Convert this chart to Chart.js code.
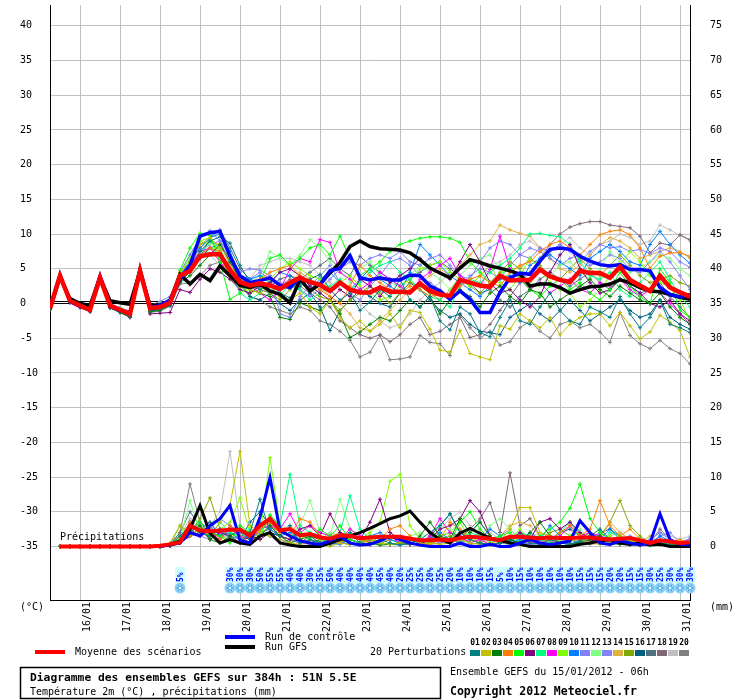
<!DOCTYPE html>
<html><head><meta charset="utf-8">
<script src="https://cdn.jsdelivr.net/npm/chart.js@4.4.1/dist/chart.umd.min.js"></script>
<style>html,body{margin:0;padding:0;background:#fff;}canvas{display:block;}</style>
</head><body>
<canvas id="c" width="740" height="700" style="width:740px;height:700px"></canvas>
<script>
// ---------- categories / ticks ----------
const dateLabels = ['16/01','17/01','18/01','19/01','20/01','21/01','22/01','23/01','24/01','25/01','26/01','27/01','28/01','29/01','30/01','31/01'];
const dateTickIdx = [3,7,11,15,19,23,27,31,35,39,43,47,51,55,59,63];
const leftTicks = [-35,-30,-25,-20,-15,-10,-5,0,5,10,15,20,25,30,35,40];
const rightTicks = [0,5,10,15,20,25,30,35,40,45,50,55,60,65,70,75];
const pertNames = ['01','02','03','04','05','06','07','08','09','10','11','12','13','14','15','16','17','18','19','20'];
const pertColors = ['#008080','#c0c000','#008000','#ff8000','#00ff00','#800080','#00ff80','#ff00ff','#80ff00','#0080ff','#8080ff','#80ff80','#8484f4','#e0b040','#80a800','#006080','#507080','#806878','#c0c0c0','#808080'];

// ---------- temperature 2m (°C), every 6h, 65 steps ----------
const tMean = [-0.7,4.0,0.4,-0.3,-0.9,3.7,-0.3,-0.9,-1.5,4.7,-0.7,-0.5,0.1,
 4.0,4.7,6.8,7.1,7.1,4.8,3.1,2.6,2.9,2.6,2.1,3.0,3.7,
 3.1,2.7,1.8,3.0,2.0,1.6,1.6,2.3,1.7,1.7,1.6,2.9,1.8,
 1.3,1.1,3.4,3.0,2.6,2.4,4.0,3.3,3.4,3.4,4.9,3.9,3.4,
 3.1,4.7,4.4,4.4,3.7,5.3,3.4,2.6,1.8,4.0,2.3,1.6,1.0];
const tCtrl = [-0.6,4.1,0.3,-0.4,-0.8,3.9,-0.4,-1.0,-1.4,4.9,-0.6,-0.3,0.5,
 3.5,5.5,9.7,10.2,10.4,6.8,4.0,3.0,3.3,3.7,2.6,2.3,3.7,
 3.0,2.7,4.7,5.1,6.9,3.7,3.4,3.7,3.4,3.4,4.1,4.0,2.5,
 1.8,0.6,1.8,0.6,-1.3,-1.3,1.6,3.7,4.4,4.2,6.1,7.8,8.0,
 7.8,6.8,6.1,5.6,5.4,5.6,4.9,4.9,4.7,2.3,1.3,0.9,1.3];
const tGfs = [-0.7,3.8,0.7,0.0,-0.3,3.8,0.4,0.1,-0.1,4.7,-0.3,-0.2,0.3,
 4.2,2.8,4.2,3.3,5.4,4.0,2.6,2.3,2.8,1.8,1.3,0.1,3.5,
 1.8,2.8,4.4,5.9,8.2,9.0,8.2,7.9,7.8,7.7,7.3,6.3,5.1,
 4.4,3.7,5.1,6.3,5.9,5.4,5.1,4.7,4.2,2.5,2.8,2.8,2.3,
 1.5,2.0,2.4,2.5,2.8,3.4,3.0,2.3,1.8,1.7,1.3,0.9,0.6];
const tP01 = [-0.7,3.9,0.2,-0.5,-1.0,3.6,-0.5,-1.2,-1.8,4.6,-1.0,-0.8,0.0,
 3.6,5.2,7.5,9.0,9.6,8.7,5.5,3.0,2.0,2.8,1.5,0.8,2.5,
 3.5,4.2,2.0,0.5,1.5,-1.0,0.2,2.0,1.0,3.5,0.5,-0.5,1.0,
 -2.5,-3.8,-0.5,-1.5,-4.2,-4.8,-2.0,0.5,-2.5,-3.0,-0.5,1.5,-1.0,
 -2.5,-3.0,-0.5,-1.2,-2.0,1.0,-1.5,-3.5,-2.0,0.5,-3.0,-3.5,-4.2];
const tP02 = [-0.6,4.1,0.5,-0.2,-0.8,3.8,-0.2,-0.8,-1.3,4.8,-0.5,-0.3,0.3,
 4.5,6.0,8.5,9.5,8.0,6.5,4.0,2.0,1.5,2.5,1.0,0.5,1.5,
 -0.5,-1.5,0.5,-2.0,-3.5,-2.5,-4.0,-3.0,-1.5,-3.5,-1.0,-1.3,-3.7,
 -6.7,-7.0,-3.9,-7.2,-7.7,-8.1,-3.2,-3.7,-1.5,-2.5,-3.5,-2.0,-4.5,
 -3.0,-2.0,-1.5,-1.5,-3.2,-1.3,-3.2,-5.1,-4.1,-1.7,-2.7,-3.9,-7.7];
const tP03 = [-0.8,3.8,0.3,-0.4,-1.1,3.5,-0.6,-1.3,-1.9,4.5,-1.2,-1.0,-0.2,
 3.0,4.0,5.5,7.0,8.5,6.0,3.5,2.0,1.5,1.0,-2.0,-2.3,0.1,
 -0.5,-1.0,0.5,-1.5,-4.9,-4.1,-3.0,-2.0,-2.5,-1.0,0.5,-0.5,1.0,
 -1.5,0.5,2.0,1.0,-0.5,1.5,2.5,1.0,0.0,2.0,1.5,-0.5,0.5,
 1.5,2.5,3.5,2.0,1.0,2.5,1.5,0.5,0.0,1.5,-0.5,-2.0,-3.0];
const tP04 = [-0.7,4.0,0.5,-0.2,-0.9,3.8,-0.3,-0.9,-1.4,4.8,-0.6,-0.4,0.2,
 4.2,5.0,7.0,8.0,7.5,5.0,3.0,2.5,3.5,4.5,5.0,5.5,4.0,
 3.0,2.0,1.0,0.0,2.5,5.5,4.0,3.0,2.0,1.5,2.5,2.0,1.0,
 1.3,0.9,2.5,3.5,4.0,3.0,2.5,4.5,5.5,6.0,7.5,8.5,9.0,
 8.0,7.0,8.5,9.9,10.4,10.6,9.9,8.0,5.1,6.8,7.3,7.3,6.8];
const tP05 = [-0.6,4.2,0.6,-0.1,-0.7,3.9,-0.1,-0.7,-1.2,4.9,-0.4,-0.1,0.6,
 4.8,8.0,10.1,9.8,6.0,0.6,1.5,2.5,3.0,6.5,7.0,5.5,6.5,
 8.0,8.5,7.0,9.7,6.5,4.0,5.0,6.0,7.5,8.5,9.0,9.4,9.6,
 9.6,9.4,8.8,6.0,4.5,3.0,4.0,5.5,3.5,2.0,1.0,2.5,3.5,
 2.0,3.0,1.5,0.5,2.0,4.5,2.5,1.0,0.0,5.0,3.0,-1.0,-2.0];
const tP06 = [-0.9,3.7,0.1,-0.6,-1.2,3.4,-0.6,-1.3,-2.0,4.4,-1.5,-1.4,-1.3,
 2.0,1.6,3.5,5.0,4.5,3.5,2.0,1.5,2.5,3.0,4.5,5.0,4.0,
 2.5,1.5,0.5,2.0,1.0,3.5,2.5,1.0,3.0,4.0,5.0,6.5,5.0,
 4.4,3.5,6.0,8.5,6.0,3.0,1.5,2.0,0.5,-0.5,1.0,4.5,7.0,
 8.5,5.0,3.0,1.5,2.0,3.5,2.5,1.5,0.0,-0.5,0.5,-1.5,-2.5];
const tP07 = [-0.7,4.0,0.3,-0.4,-1.0,3.7,-0.4,-1.0,-1.6,4.6,-0.9,-0.6,0.0,
 4.0,5.0,7.0,9.0,8.0,4.5,1.5,0.5,1.5,2.5,1.0,3.0,2.0,
 0.5,1.5,2.5,3.5,2.0,3.0,4.5,5.5,6.0,4.5,3.5,2.0,1.0,
 0.5,-0.5,2.5,3.5,3.0,4.5,5.5,6.5,8.0,10.0,10.1,9.8,9.6,
 8.5,6.0,4.0,3.5,4.5,2.0,1.0,3.0,4.5,6.0,3.5,1.0,-0.5];
const tP08 = [-0.8,3.9,0.4,-0.3,-1.0,3.6,-0.5,-1.1,-1.6,4.6,-0.8,-0.6,0.0,
 3.8,5.5,7.5,8.0,6.0,4.0,3.0,2.5,1.5,0.5,2.0,5.0,6.5,
 6.0,9.2,8.8,4.5,3.5,2.0,3.0,4.5,3.5,2.5,1.5,3.5,4.5,
 5.5,6.5,4.0,3.0,2.5,4.9,9.7,5.0,3.5,2.0,3.0,1.5,2.5,
 3.5,2.0,1.5,3.0,2.5,3.5,2.0,1.0,2.0,1.5,0.0,-1.5,-3.0];
const tP09 = [-0.6,4.1,0.5,-0.2,-0.8,3.8,-0.2,-0.8,-1.3,4.8,-0.5,-0.2,0.4,
 4.3,6.5,9.0,9.5,7.0,3.5,2.5,1.5,2.0,3.5,5.0,6.0,5.0,
 4.0,3.5,2.0,3.0,4.0,2.5,1.5,0.5,1.0,2.5,3.5,5.0,5.5,
 6.0,4.5,3.5,2.5,4.0,5.5,3.0,2.0,4.0,6.5,5.0,3.0,2.0,
 1.5,-0.5,0.5,2.0,4.0,5.5,7.5,6.0,4.0,3.0,2.5,0.5,-2.5];
const tP10 = [-0.7,4.0,0.4,-0.3,-0.9,3.7,-0.3,-0.9,-1.5,4.7,-0.7,-0.4,0.2,
 4.1,6.0,8.0,9.5,10.0,7.5,4.0,3.5,4.0,3.0,4.5,4.0,3.0,
 2.0,3.5,4.5,3.0,2.0,3.5,5.0,3.5,2.5,1.5,4.5,8.5,7.0,
 5.5,4.0,3.0,2.0,1.0,2.5,3.5,4.0,3.0,5.5,6.5,7.0,6.0,
 5.0,4.0,6.5,7.5,8.5,7.5,6.0,5.5,8.5,10.4,8.5,7.0,5.8];
const tP11 = [-0.5,4.2,0.7,0.0,-0.6,4.0,0.0,-0.6,-1.1,5.0,-0.3,0.3,1.0,
 4.5,7.0,9.5,10.5,9.0,6.0,4.0,3.5,4.5,3.5,3.0,2.5,2.0,
 1.0,2.0,3.5,5.0,6.0,5.5,6.5,7.0,6.5,7.5,6.0,5.5,6.5,
 7.0,5.5,4.0,3.5,6.0,8.0,9.0,8.5,7.0,6.5,8.0,7.5,8.5,
 7.5,6.0,7.5,8.5,8.0,8.2,7.5,7.8,7.2,8.0,7.5,6.0,5.2];
const tP12 = [-0.7,4.0,0.4,-0.3,-0.9,3.7,-0.3,-0.9,-1.5,4.7,-0.6,-0.4,0.3,
 4.2,7.0,9.0,8.5,6.5,4.5,3.5,3.0,4.0,7.5,6.5,5.5,7.0,
 9.2,8.0,6.0,4.5,3.0,5.0,6.0,4.0,3.0,2.5,4.0,5.5,4.5,
 3.5,2.0,4.0,5.5,6.5,7.0,5.0,3.5,4.5,3.0,2.5,4.0,5.5,
 6.0,4.5,3.5,5.0,7.5,6.0,4.5,5.0,6.0,7.0,6.5,5.0,4.0];
const tP13 = [-0.8,3.9,0.3,-0.4,-1.0,3.6,-0.4,-1.0,-1.6,4.6,-0.9,-0.7,0.0,
 3.9,5.5,7.5,8.5,9.0,7.0,4.5,5.0,4.8,4.0,-1.5,-2.0,1.0,
 2.5,4.0,5.5,3.0,1.5,0.5,2.5,4.0,6.0,6.5,5.5,4.0,3.0,
 2.0,1.0,2.5,4.0,5.0,4.5,3.5,5.5,7.0,8.0,7.5,6.5,5.5,
 6.5,7.0,5.5,6.0,7.0,6.5,5.0,4.5,6.0,7.5,6.0,4.0,2.0];
const tP14 = [-0.7,4.0,0.5,-0.2,-0.8,3.8,-0.2,-0.8,-1.4,4.8,-0.5,-0.3,0.2,
 4.0,5.5,8.0,9.0,8.5,5.5,3.5,3.0,3.5,4.0,2.5,3.0,4.5,
 3.5,2.5,1.0,0.0,-1.5,-3.5,-4.0,-2.5,-1.0,0.5,2.0,3.0,4.0,
 5.0,4.0,5.5,7.0,8.5,9.0,11.3,10.6,10.1,9.7,8.0,6.5,5.0,
 4.5,5.5,7.0,8.5,9.5,9.0,8.0,6.5,7.0,7.5,8.0,7.5,6.5];
const tP15 = [-0.7,4.0,0.4,-0.3,-0.9,3.7,-0.3,-0.9,-1.5,4.7,-0.7,-0.5,0.1,
 4.0,6.0,8.5,9.0,7.5,4.0,2.5,2.0,2.5,1.5,0.5,2.0,3.0,
 2.0,1.0,0.5,-1.0,0.5,1.5,2.5,1.5,0.0,1.5,3.0,2.5,1.5,
 0.5,2.0,3.5,2.5,1.5,3.0,4.5,6.0,5.0,6.5,5.5,4.0,3.5,
 5.0,6.5,5.0,4.0,5.5,7.0,5.5,4.0,3.0,3.5,4.0,3.0,2.5];
const tP16 = [-0.8,3.8,0.2,-0.5,-1.1,3.5,-0.6,-1.2,-1.8,4.5,-1.1,-0.9,-0.3,
 3.2,4.5,6.5,8.0,8.5,6.5,3.0,1.0,0.5,1.5,0.0,-1.0,0.5,
 1.5,-0.5,-3.9,-1.0,0.5,2.0,1.0,0.0,-0.5,1.5,3.0,2.0,0.5,
 -1.0,-2.0,-1.5,-3.0,-4.0,-4.2,-4.5,-2.0,-1.0,0.0,-1.5,-2.5,-1.0,
 0.5,-1.0,-2.5,-1.5,-0.5,0.5,-1.0,-2.0,-1.5,0.5,-2.0,-3.0,-3.7];
const tP17 = [-0.8,3.8,0.3,-0.4,-1.0,3.6,-0.5,-1.1,-1.7,4.6,-1.0,-0.8,-0.2,
 3.3,4.5,6.5,9.5,10.6,8.0,5.0,3.5,3.0,2.5,3.5,4.0,3.5,
 4.5,5.5,6.5,5.0,4.0,6.8,5.5,4.5,3.5,2.5,3.5,4.5,5.5,
 6.0,5.0,4.0,3.0,1.5,2.0,0.5,-0.5,1.0,2.0,3.5,4.5,3.5,
 2.5,3.5,4.5,3.0,2.0,3.5,2.5,1.5,2.0,3.0,1.0,-0.5,-2.0];
const tP18 = [-0.7,3.9,0.4,-0.3,-0.9,3.7,-0.4,-1.0,-1.6,4.6,-0.8,-0.6,0.0,
 3.7,5.0,7.0,8.0,7.0,5.5,3.5,2.5,2.0,1.5,2.5,3.5,2.5,
 1.5,0.5,-0.5,-2.5,-3.5,-4.5,-5.0,-4.5,-5.5,-4.5,-3.0,-2.0,-4.5,
 -4.0,-3.0,-2.0,-4.9,-4.5,-3.0,-1.0,1.0,3.0,4.5,6.5,8.5,10.0,
 11.0,11.5,11.8,11.8,11.3,11.1,10.9,9.7,7.3,8.7,8.4,9.9,9.2];
const tP19 = [-0.6,4.1,0.5,-0.2,-0.8,3.8,-0.2,-0.8,-1.3,4.8,-0.5,-0.2,0.4,
 4.4,6.5,8.0,7.0,5.5,4.0,3.0,3.5,5.5,6.0,6.5,6.5,6.0,
 5.5,4.0,3.0,2.0,1.0,0.0,-1.5,-2.5,-3.5,-3.0,-1.5,0.5,2.0,
 3.0,4.5,3.5,2.5,4.0,5.5,6.0,7.0,8.5,9.0,8.0,7.5,8.5,
 9.5,8.0,7.0,8.5,9.0,10.0,9.5,8.5,9.0,11.3,10.6,9.8,9.0];
const tP20 = [-0.9,3.7,0.2,-0.5,-1.1,3.5,-0.6,-1.2,-2.0,4.4,-1.3,-1.1,-0.4,
 2.8,3.0,4.0,5.5,6.0,4.5,2.5,1.0,0.5,-0.5,-1.0,-1.5,-0.5,
 -1.0,-2.5,-3.0,-4.0,-5.3,-7.7,-7.0,-4.6,-8.1,-8.0,-7.7,-4.6,-5.6,
 -5.8,-7.5,-1.7,-3.5,-5.0,-4.0,-6.0,-5.5,-3.5,-2.5,-4.0,-5.0,-3.0,
 -2.5,-3.5,-3.0,-4.1,-5.6,-1.3,-4.6,-5.8,-6.5,-5.3,-6.5,-7.2,-8.7];

// ---------- precipitation (mm / 6h) ----------
const pMean = [null,0,0,0,0,0,0,0,0,0,0,0.1,0.3,
 0.6,3.0,2.3,2.2,2.3,2.4,2.4,1.6,3.0,4.0,2.3,2.5,1.6,
 1.8,1.3,1.1,1.6,1.5,1.2,1.3,1.4,1.4,1.4,1.1,0.9,0.9,
 1.0,0.9,1.2,1.4,1.3,1.1,0.9,1.4,1.4,1.3,1.2,1.3,1.2,
 1.2,1.3,1.3,1.1,1.0,1.1,1.2,0.9,0.5,0.9,0.7,0.5,0.6];
const pCtrl = [null,0,0,0,0,0,0,0,0,0,0,0,0.2,
 0.5,2.0,1.5,3.0,4.0,5.9,0.9,0.5,4.2,9.9,2.3,1.5,0.8,
 0.5,0.3,0.8,1.5,0.5,0.2,0.3,0.8,1.5,1.0,0.5,0.2,0.0,
 0.0,0.0,0.5,0.0,0.0,0.3,0.0,0.0,0.5,1.0,0.5,0.3,0.5,
 0.8,3.7,2.0,0.5,0.3,0.8,0.5,0.2,0.5,4.7,1.0,0.3,0.2];
const pGfs = [null,0,0,0,0,0,0,0,0,0,0,0,0.3,
 0.8,2.5,5.9,1.9,0.5,1.0,0.5,0.3,1.5,2.0,0.5,0.2,0.0,
 0.0,0.0,0.5,1.0,1.5,2.0,2.6,3.3,4.0,4.4,5.1,3.5,2.0,
 1.0,0.5,1.9,2.6,1.9,1.2,0.9,0.5,0.3,0.0,0.0,0.0,0.0,
 0.0,0.3,0.5,0.8,1.0,0.5,0.3,0.5,0.2,0.3,0.0,0.0,0.0];
const pP01 = [null,0,0,0,0,0,0,0,0,0,0,0,0.2,
 1.5,3.0,2.0,1.5,2.5,1.0,0.5,2.0,6.8,2.0,1.5,3.0,0.5,
 1.0,0.5,0.3,1.0,2.0,0.5,0.3,1.0,0.5,0.2,0.5,1.0,2.0,
 3.0,4.7,2.0,1.0,0.5,0.3,0.5,0.8,1.5,0.5,0.3,1.0,0.5,
 0.3,0.8,1.5,2.5,1.0,0.5,0.3,0.5,0.2,0.5,0.3,0.5,0.2];
const pP02 = [null,0,0,0,0,0,0,0,0,0,0,0,0.5,
 3.0,1.5,2.5,1.5,3.5,6.0,13.7,3.0,2.0,1.5,1.0,0.5,0.3,
 0.5,0.3,0.0,0.5,0.3,0.5,1.0,0.5,0.3,0.5,0.5,0.3,0.5,
 0.3,0.5,1.0,0.5,0.3,0.5,0.8,2.5,5.6,5.6,2.0,1.5,1.0,
 0.8,1.0,0.5,0.3,0.5,1.5,0.8,0.5,0.3,0.2,0.5,0.3,0.2];
const pP03 = [null,0,0,0,0,0,0,0,0,0,0,0,0.1,
 0.5,2.0,3.0,1.0,0.5,1.5,2.5,1.0,1.5,3.0,1.5,0.5,1.0,
 1.5,0.5,0.3,1.0,0.5,0.3,0.5,0.2,0.3,0.5,0.3,1.5,3.5,
 1.5,1.0,4.0,2.0,3.5,1.5,0.5,1.0,0.5,2.0,3.5,1.5,0.5,
 0.3,0.5,1.0,1.5,0.5,0.3,0.5,0.2,0.3,0.5,0.2,0.3,0.1];
const pP04 = [null,0,0,0,0,0,0,0,0,0,0,0,0.2,
 0.5,3.5,1.5,2.5,1.0,3.0,1.5,0.5,2.5,3.5,2.0,1.5,4.0,
 3.5,1.5,1.0,0.5,1.5,1.0,0.5,1.0,2.5,3.0,1.5,0.5,0.3,
 1.0,3.5,2.5,1.0,0.5,1.5,0.5,1.0,1.5,0.8,0.5,1.0,2.0,
 3.0,1.5,2.5,6.6,3.0,1.5,2.5,1.0,0.5,0.8,0.5,1.0,0.3];
const pP05 = [null,0,0,0,0,0,0,0,0,0,0,0,0.3,
 1.0,2.5,3.5,2.0,1.5,0.5,3.0,2.0,1.5,4.5,3.0,1.5,2.0,
 1.0,2.5,1.5,3.0,1.0,0.5,1.5,0.5,0.3,0.5,1.0,0.5,0.3,
 1.0,0.5,3.5,5.0,2.5,1.0,1.5,2.0,0.5,1.0,1.5,2.5,3.5,
 5.5,9.0,4.0,2.0,1.0,1.5,0.5,1.0,0.5,0.8,0.5,0.3,0.2];
const pP06 = [null,0,0,0,0,0,0,0,0,0,0,0,0.1,
 0.5,1.5,2.5,1.0,2.0,1.5,0.5,1.5,1.0,2.0,1.5,1.0,2.5,
 3.0,1.5,4.7,2.0,1.5,1.0,3.5,6.8,2.0,1.0,0.5,0.3,1.0,
 2.5,3.0,4.0,6.6,5.0,1.5,0.5,1.0,2.0,1.0,3.5,4.0,2.5,
 3.5,2.0,1.0,0.5,0.3,0.5,0.3,0.2,0.5,0.3,0.2,0.1,0.2];
const pP07 = [null,0,0,0,0,0,0,0,0,0,0,0,0.2,
 1.0,2.0,3.0,1.5,3.5,2.0,1.5,2.5,2.0,4.5,3.0,10.4,3.0,
 2.0,1.5,0.5,2.0,7.3,2.5,1.0,0.5,1.5,1.0,0.5,1.0,0.5,
 1.5,0.5,1.0,2.0,1.5,0.5,1.0,0.5,2.0,1.5,1.0,0.5,2.0,
 3.5,1.5,1.0,0.5,2.0,1.5,1.0,0.5,0.3,0.5,0.3,0.5,0.2];
const pP08 = [null,0,0,0,0,0,0,0,0,0,0,0,0.1,
 0.8,2.5,1.5,2.0,1.0,2.5,1.5,1.0,2.5,3.0,2.5,4.7,2.0,
 3.0,2.0,1.5,1.0,2.5,1.5,0.5,1.0,1.5,0.5,0.3,0.5,1.5,
 4.0,2.0,1.5,0.5,1.0,0.3,0.5,1.0,2.0,0.5,1.0,0.5,1.5,
 3.0,1.5,2.0,1.5,1.0,0.5,1.0,0.3,0.5,0.8,0.3,0.2,0.1];
const pP09 = [null,0,0,0,0,0,0,0,0,0,0,0,0.3,
 1.5,3.0,2.0,1.5,2.5,3.5,7.0,2.0,1.5,12.8,3.0,1.5,1.0,
 2.0,1.0,0.5,1.5,2.0,1.0,2.0,3.5,9.4,10.4,3.0,1.0,0.5,
 1.5,2.0,3.5,1.0,0.5,1.5,0.5,1.0,2.5,1.0,1.5,0.5,1.0,
 1.5,2.0,1.0,0.5,1.5,0.5,1.0,0.3,0.5,0.5,0.3,0.2,0.3];
const pP10 = [null,0,0,0,0,0,0,0,0,0,0,0,0.2,
 1.0,3.5,2.0,3.0,1.5,2.0,1.0,1.5,3.5,2.5,1.5,2.0,1.0,
 0.5,1.0,0.5,0.3,1.0,0.5,1.5,2.0,1.0,0.5,0.3,0.5,1.0,
 2.0,1.0,0.5,1.5,1.0,2.5,1.5,0.5,1.0,2.0,1.0,3.0,1.5,
 1.0,0.5,1.5,1.0,2.5,1.5,0.5,1.0,0.5,1.5,0.8,0.5,0.3];
const pP11 = [null,0,0,0,0,0,0,0,0,0,0,0,0.4,
 1.5,2.0,3.5,2.5,4.0,3.0,2.0,1.0,2.0,1.5,1.0,0.5,1.0,
 0.5,0.3,0.5,1.0,0.5,0.3,0.5,1.0,1.5,0.5,0.3,0.5,0.3,
 0.5,1.0,0.5,2.0,3.5,1.5,0.5,1.0,0.5,0.3,0.5,1.0,0.5,
 0.3,1.0,0.5,2.0,1.0,0.5,1.5,0.5,1.0,2.0,1.0,0.5,1.2];
const pP12 = [null,0,0,0,0,0,0,0,0,0,0,0,0.2,
 1.0,6.6,2.0,1.5,1.0,2.0,1.5,0.5,3.0,4.0,2.5,1.5,3.0,
 6.6,2.0,1.5,6.8,2.5,1.0,0.5,1.5,1.0,0.5,1.5,2.0,1.0,
 3.0,2.5,1.0,0.5,1.5,3.0,4.0,2.5,1.0,0.5,1.5,1.0,0.5,
 1.5,2.5,1.0,0.5,1.0,1.5,0.5,0.3,0.5,0.3,0.2,0.3,0.2];
const pP13 = [null,0,0,0,0,0,0,0,0,0,0,0,0.2,
 0.8,2.0,1.5,1.0,2.5,1.5,1.0,1.5,2.0,1.5,0.5,1.0,0.5,
 0.3,0.5,0.3,0.5,1.0,0.5,0.3,0.5,0.3,0.2,0.5,0.3,0.5,
 1.0,0.5,0.3,1.0,0.5,0.3,1.5,2.5,1.0,0.5,0.3,0.5,1.0,
 0.5,0.3,1.0,0.5,0.3,0.5,1.0,0.5,0.3,1.5,2.0,0.5,1.0];
const pP14 = [null,0,0,0,0,0,0,0,0,0,0,0,0.2,
 1.2,2.5,3.0,2.0,1.5,1.0,2.5,1.5,1.0,2.0,1.5,1.0,0.5,
 1.0,0.5,1.5,2.0,1.0,0.5,0.3,0.5,1.0,0.5,0.3,0.5,0.3,
 0.5,1.0,2.0,1.5,0.5,1.0,1.5,3.0,3.5,3.0,1.5,1.0,0.5,
 1.0,1.5,0.5,1.0,3.5,2.0,1.0,0.5,1.5,0.5,0.3,0.5,0.3];
const pP15 = [null,0,0,0,0,0,0,0,0,0,0,0,0.3,
 3.0,2.0,4.0,7.0,2.5,1.5,1.0,2.0,1.5,3.0,2.0,1.5,1.0,
 0.5,1.0,0.5,1.5,1.0,0.5,0.3,0.5,1.0,0.5,0.3,0.5,0.8,
 1.0,1.5,0.5,1.0,2.0,1.0,0.5,1.5,1.0,0.5,1.0,2.0,2.5,
 1.5,1.0,2.0,1.5,3.5,6.6,3.0,1.5,0.5,0.3,0.5,0.2,0.1];
const pP16 = [null,0,0,0,0,0,0,0,0,0,0,0,0.2,
 0.5,1.5,2.5,3.5,1.5,2.0,1.0,3.5,5.0,3.0,1.5,1.0,2.0,
 1.0,0.5,1.0,0.5,0.3,0.5,1.0,0.5,0.3,0.5,1.0,0.5,1.5,
 3.0,4.7,2.0,1.0,0.5,0.3,0.5,1.0,0.5,0.3,0.5,1.0,2.0,
 2.5,1.5,1.0,2.0,2.5,1.0,0.5,0.3,0.5,0.3,0.2,0.3,0.1];
const pP17 = [null,0,0,0,0,0,0,0,0,0,0,0,0.3,
 2.0,5.0,3.0,2.0,1.5,2.5,2.0,1.5,3.0,2.5,1.5,1.0,0.5,
 1.5,1.0,0.5,1.0,0.5,0.3,1.0,0.5,0.3,0.5,0.3,0.5,1.0,
 0.5,1.0,0.5,0.3,0.5,0.3,0.5,1.0,0.5,0.3,0.5,1.0,0.5,
 0.3,0.5,1.0,0.5,0.3,0.5,0.3,0.2,0.5,1.0,0.5,0.3,0.2];
const pP18 = [null,0,0,0,0,0,0,0,0,0,0,0,0.1,
 0.5,1.5,2.0,1.5,1.0,2.0,1.5,1.0,2.0,2.5,1.5,1.0,0.5,
 1.0,0.5,0.3,0.5,1.0,0.5,0.3,0.5,1.0,0.5,0.3,0.5,1.0,
 1.5,2.0,1.0,2.5,4.0,6.3,2.0,10.6,3.0,4.0,1.5,1.0,0.5,
 1.0,0.5,1.5,1.0,0.5,0.3,0.5,0.3,0.5,2.5,1.0,0.5,0.3];
const pP19 = [null,0,0,0,0,0,0,0,0,0,0,0,0.3,
 1.5,4.0,2.5,3.0,5.0,13.7,3.0,1.5,2.0,1.5,2.5,3.0,2.0,
 1.5,1.0,2.0,1.5,1.0,0.5,1.0,0.5,0.3,0.5,1.0,0.5,1.0,
 2.5,4.0,5.0,3.0,1.5,2.0,1.0,0.5,1.0,2.0,1.5,1.0,0.5,
 1.5,2.0,1.0,0.5,1.5,2.0,1.0,0.5,1.0,2.0,1.5,1.0,1.5];
const pP20 = [null,0,0,0,0,0,0,0,0,0,0,0,0.2,
 2.0,9.0,3.5,2.0,1.5,3.0,2.0,1.0,2.5,3.5,2.0,1.5,1.0,
 0.5,1.0,0.5,1.5,1.0,0.5,0.3,0.5,1.0,0.5,0.3,0.5,0.8,
 1.0,0.5,1.5,1.0,0.5,0.3,0.5,0.3,0.5,1.0,0.5,0.3,0.5,
 1.0,0.5,0.3,0.5,1.0,0.5,0.3,0.2,0.5,0.3,0.5,0.2,0.3];

// ---------- snow probability (%) per step ----------
const snowPct = [null,null,null,null,null,null,null,null,null,null,null,null,null,
 5,null,null,null,null,30,30,30,50,55,55,40,40,
 30,35,50,40,40,40,40,45,40,20,25,25,20,
 25,20,10,10,10,15,5,10,15,10,10,10,10,
 10,15,15,15,20,20,15,15,30,25,30,30,30];

const tPert = [tP01,tP02,tP03,tP04,tP05,tP06,tP07,tP08,tP09,tP10,tP11,tP12,tP13,tP14,tP15,tP16,tP17,tP18,tP19,tP20];
const pPert = [pP01,pP02,pP03,pP04,pP05,pP06,pP07,pP08,pP09,pP10,pP11,pP12,pP13,pP14,pP15,pP16,pP17,pP18,pP19,pP20];

// ---------- texts ----------
const txtMean = 'Moyenne des scénarios';
const txtCtrl = 'Run de contrôle';
const txtGfs = 'Run GFS';
const txtPert = '20 Perturbations';
const txtTitle = 'Diagramme des ensembles GEFS sur 384h : 51N 5.5E';
const txtSub = 'Température 2m (°C) , précipitations (mm)';
const txtRun = 'Ensemble GEFS du 15/01/2012 - 06h';
const txtCopy = 'Copyright 2012 Meteociel.fr';
const txtPrecip = 'Précipitations';

const MONO = '"DejaVu Sans Mono", monospace';
const pts = arr => arr.map((v,i)=>({x:i,y:v}));

const datasets = [];
datasets.push({data:pts(tMean), borderColor:'#ff0000', borderWidth:4.5, pointRadius:0, order:0, yAxisID:'y'});
datasets.push({data:pts(tCtrl), borderColor:'#0000ff', borderWidth:3.5, pointRadius:0, order:1, yAxisID:'y'});
datasets.push({data:pts(tGfs), borderColor:'#000000', borderWidth:3.5, pointRadius:0, order:2, yAxisID:'y'});
datasets.push({data:pts(pMean), borderColor:'#ff0000', borderWidth:4, pointRadius:0, order:0, yAxisID:'y2'});
datasets.push({data:pts(pCtrl), borderColor:'#0000ff', borderWidth:3, pointRadius:0, order:1, yAxisID:'y2'});
datasets.push({data:pts(pGfs), borderColor:'#000000', borderWidth:3, pointRadius:0, order:2, yAxisID:'y2'});
tPert.forEach((arr,k)=>datasets.push({data:pts(arr), borderColor:pertColors[k], backgroundColor:pertColors[k], borderWidth:1,
  pointStyle:'cross', pointRadius:2, pointBorderWidth:1, pointBorderColor:pertColors[k], order:3+k, yAxisID:'y'}));
pPert.forEach((arr,k)=>datasets.push({data:pts(arr), borderColor:pertColors[k], backgroundColor:pertColors[k], borderWidth:1,
  pointStyle:'cross', pointRadius:2, pointBorderWidth:1, pointBorderColor:pertColors[k], order:3+k, yAxisID:'y2'}));

function zeroPad(s){ s.paddingTop=0; s.paddingBottom=0; s.paddingLeft=0; s.paddingRight=0; }

const deco = {
  id:'deco',
  beforeDraw(chart){
    const c = chart.ctx; c.save(); c.fillStyle='#fff'; c.fillRect(0,0,chart.width,chart.height); c.restore();
  },
  beforeDatasetsDraw(chart){
    const {ctx, chartArea:a, scales:{y}} = chart;
    const y0 = Math.round(y.getPixelForValue(0));
    ctx.save(); ctx.strokeStyle='#000'; ctx.lineWidth=1;
    [y0-1.5, y0+0.5].forEach(yy=>{ ctx.beginPath(); ctx.moveTo(a.left,yy); ctx.lineTo(a.right,yy); ctx.stroke(); });
    ctx.restore();
  },
  afterDraw(chart){
    const ctx = chart.ctx, xs = chart.scales.x;
    ctx.save();
    // snow probability row
    snowPct.forEach((p,i)=>{ if(p==null) return; const px = xs.getPixelForValue(i);
      ctx.fillStyle='#ccffff'; ctx.fillRect(px-5, 567, 10, 16); });
    snowPct.forEach((p,i)=>{ if(p==null) return; const px = xs.getPixelForValue(i);
      ctx.beginPath(); ctx.arc(px, 588, 5.5, 0, Math.PI*2); ctx.fillStyle='#8fd3f5'; ctx.fill();
      ctx.strokeStyle='#3c9be6'; ctx.lineWidth=1;
      for(let k=0;k<3;k++){ const an = k*Math.PI/3; ctx.beginPath();
        ctx.moveTo(px-4*Math.cos(an), 588-4*Math.sin(an)); ctx.lineTo(px+4*Math.cos(an), 588+4*Math.sin(an)); ctx.stroke(); }
      ctx.beginPath(); ctx.arc(px, 588, 1.2, 0, Math.PI*2); ctx.fillStyle='#ffffff'; ctx.fill();
    });
    snowPct.forEach((p,i)=>{ if(p==null) return; const px = xs.getPixelForValue(i);
      ctx.save(); ctx.translate(px+0.5, 582); ctx.rotate(-Math.PI/2);
      ctx.font='bold 8px '+MONO; ctx.fillStyle='#0000ff'; ctx.textAlign='left'; ctx.textBaseline='middle';
      ctx.fillText(p+'%', 0, 0); ctx.restore(); });

    ctx.fillStyle='#000'; ctx.textBaseline='middle'; ctx.textAlign='left';
    ctx.font='10px '+MONO;
    ctx.fillText(txtPrecip, 60, 537);
    ctx.fillText('(°C)', 20, 607);
    ctx.fillText('(mm)', 710, 607);

    // legend lines
    const seg=(x1,x2,y,col)=>{ ctx.strokeStyle=col; ctx.lineWidth=4; ctx.beginPath(); ctx.moveTo(x1,y); ctx.lineTo(x2,y); ctx.stroke(); };
    seg(35,65,652,'#ff0000'); seg(225,255,637,'#0000ff'); seg(225,255,647,'#000000');
    ctx.fillStyle='#000';
    ctx.fillText(txtMean, 75, 652);
    ctx.fillText(txtCtrl, 265, 637);
    ctx.fillText(txtGfs, 265, 647);
    ctx.fillText(txtPert, 370, 652);
    // swatches
    pertColors.forEach((col,k)=>{ const sx = 470 + 11*k;
      ctx.fillStyle=col; ctx.fillRect(sx, 650, 10, 6);
      ctx.fillStyle='#000'; ctx.font='bold 8px '+MONO; ctx.textAlign='center';
      ctx.fillText(pertNames[k], sx+5, 643); });
    ctx.textAlign='left';
    // title box
    ctx.strokeStyle='#000'; ctx.lineWidth=1.5; ctx.strokeRect(20.5, 667.5, 420, 31);
    ctx.fillStyle='#000';
    ctx.font='bold 11.3px '+MONO; ctx.fillText(txtTitle, 30, 678);
    ctx.font='10px '+MONO; ctx.fillText(txtSub, 30, 692);
    ctx.fillText(txtRun, 450, 672);
    ctx.font='bold 11.5px '+MONO; ctx.fillText(txtCopy, 450, 692);
    ctx.restore();
  }
};

new Chart(document.getElementById('c'), {
  type:'line',
  data:{datasets},
  plugins:[deco],
  options:{
    responsive:false, animation:false, devicePixelRatio:1,
    layout:{padding:{left:20,right:0,top:0,bottom:0}},
    elements:{line:{tension:0}},
    plugins:{legend:{display:false}, tooltip:{enabled:false}},
    scales:{
      x:{type:'linear', min:0, max:64, bounds:'data',
        grid:{color:'#c0c0c0', lineWidth:1, drawTicks:false},
        border:{display:true, color:'#000', width:1},
        afterBuildTicks:s=>{ s.ticks = dateTickIdx.map(v=>({value:v})); },
        afterFit:s=>{ s.height = 100; zeroPad(s); },
        ticks:{autoSkip:false, minRotation:90, maxRotation:90, labelOffset:7, padding:2, color:'#000',
          font:{family:MONO, size:10},
          callback:v=>{ const k = dateTickIdx.indexOf(v); return k>=0 ? dateLabels[k] : ''; }}
      },
      y:{type:'linear', position:'left', min:-42.714, max:43, bounds:'data',
        grid:{color:'#c0c0c0', lineWidth:1, drawTicks:false},
        border:{display:true, color:'#000', width:1},
        afterBuildTicks:s=>{ s.ticks = leftTicks.map(v=>({value:v})); },
        afterFit:s=>{ s.width = 30; zeroPad(s); },
        ticks:{crossAlign:'far', padding:0, color:'#000', font:{family:MONO, size:10}, callback:v=>String(v)}
      },
      y2:{type:'linear', position:'right', min:-7.714, max:78, bounds:'data',
        grid:{display:false, drawTicks:false},
        border:{display:true, color:'#000', width:1},
        afterBuildTicks:s=>{ s.ticks = rightTicks.map(v=>({value:v})); },
        afterFit:s=>{ s.width = 50; zeroPad(s); },
        ticks:{padding:20, color:'#000', font:{family:MONO, size:10}, callback:v=>String(v)}
      }
    }
  }
});
</script>
</body></html>
